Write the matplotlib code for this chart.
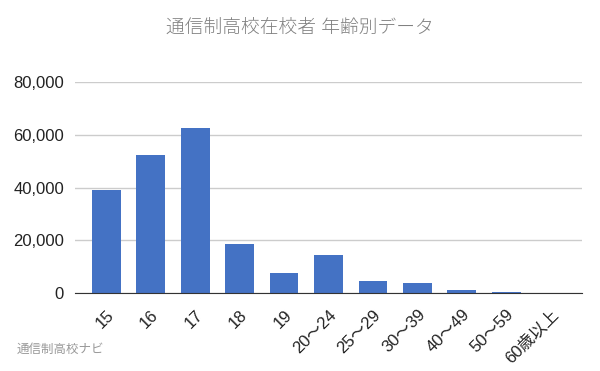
import matplotlib
matplotlib.use('Agg')
import matplotlib.pyplot as plt
from matplotlib.ticker import FuncFormatter

plt.rcParams['font.family'] = ['Liberation Sans', 'Noto Sans CJK JP', 'DejaVu Sans']

# 年齢区分と在校者数
ages = ['15', '16', '17', '18', '19', '20～24', '25～29', '30～39', '40～49', '50～59', '60歳以上']
students = [39000, 52300, 62600, 18600, 7600, 14400, 4500, 3800, 1100, 400, 100]
yticks = [0, 20000, 40000, 60000, 80000]

title = '通信制高校在校者 年齢別データ'
source = '通信制高校ナビ'

fig = plt.figure(figsize=(6, 3.71), dpi=100)
ax = fig.add_axes([0.125, 0.21, 0.845, 0.569])

x = range(len(ages))
ax.bar(x, students, width=0.65, color='#4472c4', zorder=3)

ax.set_xlim(-0.7, len(ages) - 0.3)
ax.set_ylim(0, 80000)
ax.set_yticks(yticks)
ax.yaxis.set_major_formatter(FuncFormatter(lambda v, _: f'{int(v):,}'))
ax.grid(axis='y', color='#cccccc', lw=1, zorder=0)
ax.tick_params(axis='y', length=0, pad=8, labelsize=12, labelcolor='#222222')

ax.set_xticks(list(x))
ax.set_xticklabels(ages, rotation=45, ha='right', va='top', rotation_mode='anchor')
ax.tick_params(axis='x', length=0, pad=10, labelsize=12, labelcolor='#222222')

for s in ['top', 'right', 'left']:
    ax.spines[s].set_visible(False)
ax.spines['bottom'].set_color('#333333')
ax.spines['bottom'].set_zorder(4)

fig.text(0.5, 0.925, title, ha='center', va='center', fontsize=13.5,
         color='#808080', fontweight='light')
fig.text(0.028, 0.057, source, ha='left', va='center', fontsize=9, color='#999999')

fig.savefig('out.png', dpi=100)
